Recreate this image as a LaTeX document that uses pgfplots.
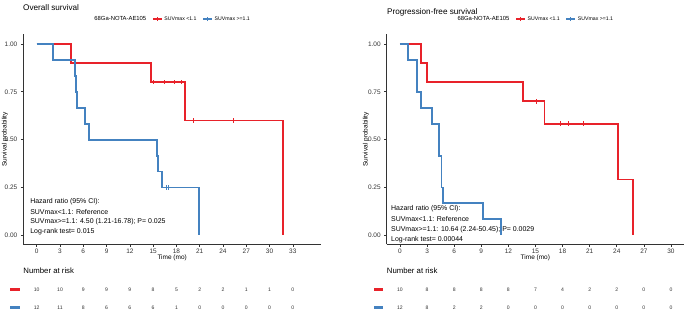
\documentclass[border=0pt]{standalone}
\usepackage{fontspec}
\setmainfont{Liberation Sans}
\usepackage{pgfplots}
\pgfplotsset{compat=1.18}
\definecolor{kmred}{HTML}{E8222A}
\definecolor{kmblue}{HTML}{4482C0}
\definecolor{axgray}{HTML}{333333}
\newcommand\fs[1]{\fontsize{#1}{#1}\selectfont}
\pgfplotsset{
  kmaxis/.style={
    scale only axis, clip=false,
    axis x line*=bottom, axis y line*=left,
    axis line style={-, axgray, line width=0.7pt},
    tick align=outside, major tick length=2.5bp,
    tick style={axgray, line width=0.6pt},
    ymin=-0.047, ymax=1.052, ytick={0,0.25,0.5,0.75,1},
    /pgf/number format/assume math mode=true,
    yticklabel style={/pgf/number format/fixed, /pgf/number format/fixed zerofill, /pgf/number format/precision=2, font=\fs{6.5}, text=axgray},
    xticklabel style={font=\fs{6.5}, text=axgray, yshift=1.2bp},
    every axis x label/.style={at={(axis description cs:0.5,0)}, anchor=center, yshift=-14bp, font=\fs{6.5}},
    legend style={draw=none, fill=none, inner sep=0pt, font=\fs{5.2}, anchor=center,
      /tikz/every even column/.append style={column sep=4bp}},
    legend columns=3, legend cell align=left,
  },
  kmleg/.style={line width=1.2pt, legend image code/.code={\draw[##1] (0bp,0bp)--(9bp,0bp); \draw[##1] (4.5bp,-2.2bp)--(4.5bp,2.2bp);}},
  km/.style={const plot mark left, mark=none, line width=1.9bp, forget plot},
  cens/.style={only marks, mark=|, mark size=2.2bp, line width=0.9bp, forget plot},
  riskaxis/.style={scale only axis, hide axis, clip=false, ymin=0, ymax=45, height=45bp,
    nodes near coords style={anchor=center, font=\fs{5.1}, text=axgray}},
}
\begin{document}
\begin{tikzpicture}
\useasboundingbox (0,0) rectangle (685bp,310bp);
% ---------------- Left: Overall survival
\node[anchor=west, inner sep=0, font=\fs{8.2}] at (23bp,302bp) {Overall survival};
\begin{axis}[kmaxis, at={(23.3bp,65.7bp)}, anchor=south west,
  width=297.7bp, height=210.3bp, xmin=-1.73, xmax=36.63,
  xtick={0,3,...,33}, xlabel={Time (mo)},
  every axis y label/.style={at={(axis description cs:-0.0615,0.5)}, rotate=90, anchor=center, font=\fs{6.5}},
  ylabel={Survival probability},
  legend style={at={(axis description cs:0.5,1.0713)}}]
\addlegendimage{empty legend}
\addlegendentry{\fs{5.9}68Ga-NOTA-AE105}
\addlegendimage{kmred, kmleg}
\addlegendentry{SUVmax <1.1}
\addlegendimage{kmblue, kmleg}
\addlegendentry{SUVmax >=1.1}
\addplot[km, kmred] coordinates {(0,1) (4.38,0.9) (14.7,0.8) (19.1,0.6) (31.7,0)};
\addplot[cens, kmred] coordinates {(15.0,0.8) (16.4,0.8) (17.7,0.8) (18.6,0.8) (20.2,0.6) (25.4,0.6)};
\addplot[km, kmblue] coordinates {(0,1) (2.14,0.9167) (4.93,0.8333) (5.06,0.75) (5.2,0.6667) (6.2,0.5833) (6.7,0.5) (15.5,0.4167) (15.6,0.3333) (16.1,0.25) (20.9,0)};
\addplot[cens, kmblue] coordinates {(16.7,0.25) (17.0,0.25)};
\node[anchor=west, inner sep=0, font=\fs{7}] at (axis cs:-0.86,0.176) {Hazard ratio (95\% CI):};
\node[anchor=west, inner sep=0, font=\fs{7}] at (axis cs:-0.86,0.123) {SUVmax<1.1: Reference};
\node[anchor=west, inner sep=0, font=\fs{7}] at (axis cs:-0.86,0.071) {SUVmax>=1.1: 4.50 (1.21-16.78); P= 0.025};
\node[anchor=west, inner sep=0, font=\fs{7}] at (axis cs:-0.86,0.017) {Log-rank test= 0.015};
\end{axis}
\begin{axis}[riskaxis, at={(23.3bp,0bp)}, anchor=south west, width=297.7bp, xmin=-1.73, xmax=36.63]
\addplot[draw=none, nodes near coords, point meta=explicit symbolic] table[meta=n] {
x y n
0 20.3 10
3 20.3 10
6 20.3 9
9 20.3 9
12 20.3 9
15 20.3 8
18 20.3 5
21 20.3 2
24 20.3 2
27 20.3 1
30 20.3 1
33 20.3 0
};
\addplot[draw=none, nodes near coords, point meta=explicit symbolic] table[meta=n] {
x y n
0 2.3 12
3 2.3 11
6 2.3 8
9 2.3 6
12 2.3 6
15 2.3 6
18 2.3 1
21 2.3 0
24 2.3 0
27 2.3 0
30 2.3 0
33 2.3 0
};
\addplot[kmred, line width=2.6bp] coordinates {(-3.44,20.3) (-2.15,20.3)};
\addplot[kmblue, line width=2.6bp] coordinates {(-3.44,2.3) (-2.15,2.3)};
\node[anchor=west, inner sep=0, font=\fs{7.8}] at (axis cs:-1.73,39) {Number at risk};
\end{axis}
% ---------------- Right: Progression-free survival
\node[anchor=west, inner sep=0, font=\fs{8.2}] at (387bp,298bp) {Progression-free survival};
\begin{axis}[kmaxis, at={(386.7bp,65.7bp)}, anchor=south west,
  width=297.3bp, height=210.3bp, xmin=-1.47, xmax=31.44,
  xtick={0,3,...,30}, xlabel={Time (mo)},
  every axis y label/.style={at={(axis description cs:-0.0696,0.5)}, rotate=90, anchor=center, font=\fs{6.5}},
  ylabel={Survival probability},
  legend style={at={(axis description cs:0.5,1.0713)}}]
\addlegendimage{empty legend}
\addlegendentry{\fs{5.9}68Ga-NOTA-AE105}
\addlegendimage{kmred, kmleg}
\addlegendentry{SUVmax <1.1}
\addlegendimage{kmblue, kmleg}
\addlegendentry{SUVmax >=1.1}
\addplot[km, kmred] coordinates {(0,1) (2.33,0.9) (3.0,0.8) (13.6,0.7) (16.0,0.5833) (24.1,0.2917) (25.8,0)};
\addplot[cens, kmred] coordinates {(15.06,0.7) (17.8,0.5833) (18.7,0.5833) (20.3,0.5833)};
\addplot[km, kmblue] coordinates {(0,1) (0.85,0.9167) (1.88,0.75) (2.33,0.6667) (3.58,0.5833) (4.32,0.4167) (4.6,0.25) (4.73,0.1667) (9.2,0.0833) (11.2,0)};
\node[anchor=west, inner sep=0, font=\fs{7}] at (axis cs:-1.0,0.1375) {Hazard ratio (95\% CI):};
\node[anchor=west, inner sep=0, font=\fs{7}] at (axis cs:-1.0,0.0836) {SUVmax<1.1: Reference};
\node[anchor=west, inner sep=0, font=\fs{7}] at (axis cs:-1.0,0.029) {SUVmax>=1.1: 10.64 (2.24-50.45); P= 0.0029};
\node[anchor=west, inner sep=0, font=\fs{7}] at (axis cs:-1.0,-0.023) {Log-rank test= 0.00044};
\end{axis}
\begin{axis}[riskaxis, at={(386.7bp,0bp)}, anchor=south west, width=297.3bp, xmin=-1.47, xmax=31.44]
\addplot[draw=none, nodes near coords, point meta=explicit symbolic] table[meta=n] {
x y n
0 20.3 10
3 20.3 8
6 20.3 8
9 20.3 8
12 20.3 8
15 20.3 7
18 20.3 4
21 20.3 2
24 20.3 2
27 20.3 0
30 20.3 0
};
\addplot[draw=none, nodes near coords, point meta=explicit symbolic] table[meta=n] {
x y n
0 2.3 12
3 2.3 8
6 2.3 2
9 2.3 2
12 2.3 0
15 2.3 0
18 2.3 0
21 2.3 0
24 2.3 0
27 2.3 0
30 2.3 0
};
\addplot[kmred, line width=2.6bp] coordinates {(-2.85,20.3) (-1.85,20.3)};
\addplot[kmblue, line width=2.6bp] coordinates {(-2.85,2.3) (-1.85,2.3)};
\node[anchor=west, inner sep=0, font=\fs{7.8}] at (axis cs:-1.47,39) {Number at risk};
\end{axis}
\end{tikzpicture}
\end{document}
